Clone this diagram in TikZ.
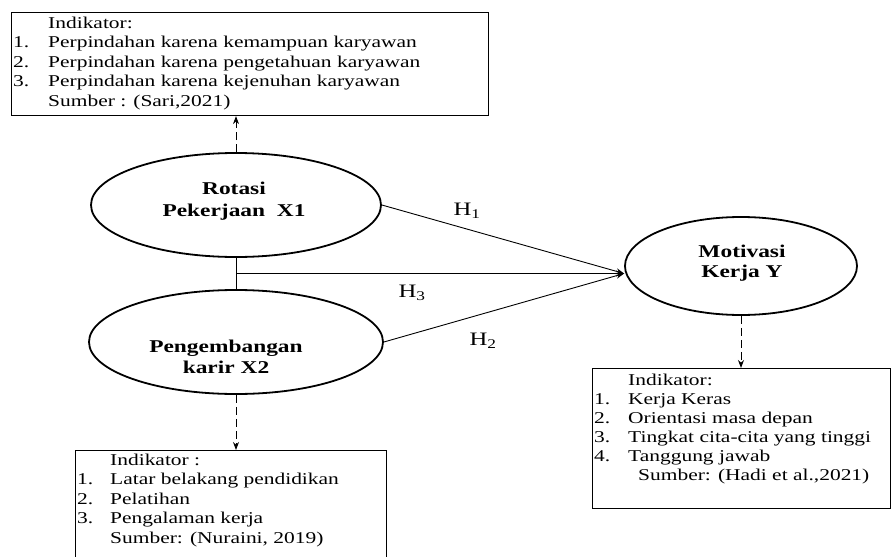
\documentclass[tikz,border=0pt]{standalone}
\usepackage{fontspec}
\setmainfont{Liberation Serif}[FakeStretch=1.3]
\usetikzlibrary{shapes.geometric,arrows.meta,calc}
\begin{document}
\begin{tikzpicture}[x=1pt,y=-1pt,
  boxtxt/.style={anchor=base west, inner sep=0pt, font=\fontsize{16.5}{19}\selectfont},
  var/.style={ellipse, draw, line width=1.8pt, inner sep=0pt},
  vartxt/.style={align=center, inner sep=0pt},
  ibox/.style={draw, line width=1.1pt, anchor=north west, inner sep=0pt},
  dasharr/.style={dashed, dash pattern=on 8pt off 4pt, line width=1pt, -{Stealth[length=8pt,width=6pt]}},
  patharr/.style={line width=0.9pt, -{Stealth[length=8pt,width=6pt]}},
  hlab/.style={font=\fontsize{19}{19}\selectfont, inner sep=0pt}]

\clip (0,0) rectangle (892,557);

% indicator boxes
\node[ibox, minimum width=477pt, minimum height=103pt] (b1) at (11,12) {};
\node[ibox, minimum width=298pt, minimum height=140pt] (b2) at (592,368) {};
\node[ibox, minimum width=311pt, minimum height=130pt] (b3) at (75,450) {};

% top box text
\node[boxtxt] (a0) at (48,28) {Indikator:};
\node[boxtxt] (an1) at (13,47.5) {1.};
\node[boxtxt] (a1) at (48,47.5) {Perpindahan karena kemampuan karyawan};
\node[boxtxt] (an2) at (13,67) {2.};
\node[boxtxt] (a2) at (48,67) {Perpindahan karena pengetahuan karyawan};
\node[boxtxt] (an3) at (13,86.5) {3.};
\node[boxtxt] (a3) at (48,86.5) {Perpindahan karena kejenuhan karyawan};
\node[boxtxt] (a4) at (48,106) {Sumber : (Sari,2021)};

% right box text
\node[boxtxt] (c0) at (628,385) {Indikator:};
\node[boxtxt] (cn1) at (594,404) {1.};
\node[boxtxt] (c1) at (628,404) {Kerja Keras};
\node[boxtxt] (cn2) at (594,423) {2.};
\node[boxtxt] (c2) at (628,423) {Orientasi masa depan};
\node[boxtxt] (cn3) at (594,442) {3.};
\node[boxtxt] (c3) at (628,442) {Tingkat cita-cita yang tinggi};
\node[boxtxt] (cn4) at (594,461) {4.};
\node[boxtxt] (c4) at (628,461) {Tanggung jawab};
\node[boxtxt] (c5) at (638,480) {Sumber: (Hadi et al.,2021)};

% bottom-left box text
\node[boxtxt] (d0) at (110,465) {Indikator :};
\node[boxtxt] (dn1) at (77,484.5) {1.};
\node[boxtxt] (d1) at (110,484.5) {Latar belakang pendidikan};
\node[boxtxt] (dn2) at (77,504) {2.};
\node[boxtxt] (d2) at (110,504) {Pelatihan};
\node[boxtxt] (dn3) at (77,523.5) {3.};
\node[boxtxt] (d3) at (110,523.5) {Pengalaman kerja};
\node[boxtxt] (d4) at (110,543) {Sumber: (Nuraini, 2019)};

% variables
\node[var, minimum width=290pt, minimum height=104pt] (x1) at (236,205) {};
\node[vartxt, font=\fontsize{18}{22}\selectfont\bfseries] (x1t) at (234,201) {Rotasi\\Pekerjaan~~X1};
\node[var, minimum width=294pt, minimum height=104pt] (x2) at (236,342) {};
\node[vartxt, font=\fontsize{18}{20.5}\selectfont\bfseries] (x2t) at (226,357) {Pengembangan\\karir X2};
\node[var, minimum width=232pt, minimum height=98pt] (y) at (741,266) {};
\node[vartxt, font=\fontsize{18}{20.5}\selectfont\bfseries] (yt) at (742,263) {Motivasi\\Kerja Y};

% paths
\draw[line width=1pt] (x1.south) -- (x2.north);
\coordinate (j) at ($(x1.south)!0.5!(x2.north)$);
\coordinate (tip) at (y.west |- j);
\draw[patharr] (j) -- (tip);
\draw[patharr] (x1.east) -- (tip);
\draw[patharr] (x2.east) -- (tip);
\node[hlab] (h1) at (467,211) {H\textsubscript{1}};
\node[hlab] (h3) at (412,293) {H\textsubscript{3}};
\node[hlab] (h2) at (483,341) {H\textsubscript{2}};

% indicator links
\draw[dasharr] (x1.north) -- (x1.north |- b1.south);
\draw[dasharr] (x2.south) -- (x2.south |- b3.north);
\draw[dasharr] (y.south) -- (y.south |- b2.north);
\end{tikzpicture}
\end{document}
